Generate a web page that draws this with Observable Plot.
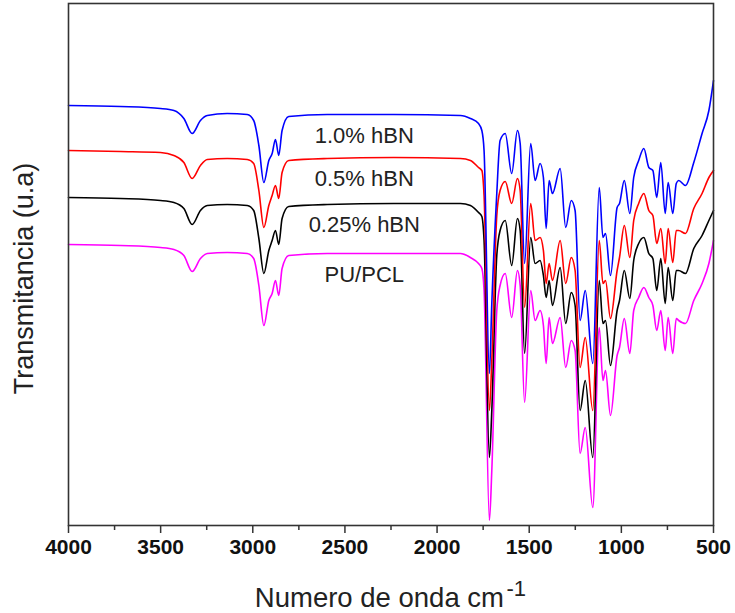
<!DOCTYPE html>
<html>
<head>
<meta charset="utf-8">
<script src="https://cdn.jsdelivr.net/npm/d3@7"></script>
<script src="https://cdn.jsdelivr.net/npm/@observablehq/plot@0.6"></script>
<style>
  body { margin: 0; background: #fff; }
  #chart svg { display: block; }
</style>
</head>
<body>
<div id="chart"></div>
<script>
// Wavenumber grid (cm^-1)
const wavenumber = [4000, 3718, 3501, 3428, 3374, 3329, 3284, 3247, 3139, 3030,
  2995, 2967, 2940, 2913, 2895, 2877, 2859, 2841, 2805, 2596,
  2235, 1873, 1819, 1775, 1757, 1745, 1716, 1703, 1676, 1658,
  1630, 1595, 1564, 1549, 1525, 1492, 1468, 1441, 1423, 1408,
  1392, 1374, 1332, 1302, 1272, 1251, 1224, 1196, 1155, 1120,
  1100, 1086, 1059, 1023, 1010, 984, 954, 933, 906, 878,
  851, 829, 808, 786, 762, 746, 721, 702, 689, 652,
  607, 562, 525, 500];

// Transmittance (arbitrary units, curves offset as in the figure)
const t_hbn10 = [420, 419, 417, 415, 407, 392, 405, 410, 412, 411,
  405, 380, 343, 365, 372, 386, 370, 395, 409, 411,
  411, 410, 407, 402, 395, 375, 152, 222, 332, 385,
  392, 352, 395, 382, 262, 382, 345, 362, 348, 297,
  345, 332, 357, 298, 325, 315, 205, 235, 162, 338,
  288, 292, 250, 318, 322, 345, 312, 348, 365, 377,
  358, 355, 328, 363, 312, 343, 312, 342, 345, 340,
  363, 392, 415, 445];
const t_hbn05 = [375, 374, 373, 370, 363, 347, 360, 366, 367, 366,
  362, 335, 298, 320, 330, 340, 327, 353, 365, 367,
  368, 367, 365, 358, 355, 330, 115, 165, 310, 335,
  344, 322, 347, 335, 218, 322, 285, 288, 275, 242,
  262, 245, 285, 242, 268, 255, 158, 188, 115, 285,
  242, 245, 207, 255, 268, 300, 268, 305, 322, 332,
  315, 310, 282, 297, 262, 297, 263, 295, 295, 292,
  317, 332, 348, 355];
const t_hbn025 = [328, 327, 325, 323, 317, 301, 315, 320, 321, 320,
  315, 287, 252, 275, 285, 295, 281, 307, 319, 321,
  322, 322, 320, 313, 309, 285, 68, 115, 270, 295,
  305, 260, 307, 295, 172, 288, 262, 265, 250, 228,
  245, 220, 258, 202, 233, 220, 115, 145, 68, 245,
  202, 205, 160, 215, 225, 255, 227, 265, 282, 288,
  272, 267, 235, 267, 222, 258, 225, 255, 255, 252,
  277, 290, 305, 315];
const t_pupcl = [281, 280, 278, 276, 270, 254, 267, 272, 273, 272,
  267, 240, 200, 225, 232, 245, 230, 257, 270, 272,
  272, 272, 268, 262, 257, 235, 5, 55, 215, 240,
  252, 208, 255, 240, 123, 235, 205, 215, 200, 162,
  208, 182, 208, 158, 185, 175, 72, 98, 18, 198,
  145, 155, 110, 170, 178, 207, 172, 215, 228, 238,
  228, 220, 195, 215, 175, 208, 172, 207, 205, 202,
  225, 242, 262, 285];

const seriesNames = ["1.0% hBN", "0.5% hBN", "0.25% hBN", "PU/PCL"];
const seriesColors = ["#0000ff", "#ff0000", "#000000", "#ff00ff"];
const seriesValues = [t_hbn10, t_hbn05, t_hbn025, t_pupcl];

const xTicks = [4000, 3500, 3000, 2500, 2000, 1500, 1000, 500];
const xMinorTicks = [3750, 3250, 2750, 2250, 1750, 1250, 750];

const data = seriesNames.flatMap((name, k) =>
  wavenumber.map((w, i) => ({wn: w, t: seriesValues[k][i], series: name}))
);
// draw PU/PCL first, 1.0% last
const drawOrder = [...seriesNames].reverse();
const lineData = drawOrder.flatMap(n => data.filter(d => d.series === n));

// label rows: placed just below each curve's flat baseline
const baseIdx = wavenumber.indexOf(2235);
const labels = seriesNames.map((name, k) => ({name, t: seriesValues[k][baseIdx] - 21}));

const font = "'Liberation Sans', Arial, Helvetica, sans-serif";

const chart = Plot.plot({
  width: 735,
  height: 613,
  marginLeft: 68,
  marginRight: 22,
  marginTop: 3,
  marginBottom: 88,
  style: {fontFamily: font, background: "#fff", color: "#222"},
  x: {domain: [4000, 500], axis: null},
  y: {domain: [0, 522], axis: null},
  color: {domain: seriesNames, range: seriesColors},
  marks: [
    Plot.line(lineData, {x: "wn", y: "t", z: "series", stroke: "series",
      strokeWidth: 1.6, curve: "monotone-x"}),
    Plot.text(labels, {x: () => 2395, y: "t", text: "name", fontSize: 22,
      fill: "#222", textAnchor: "middle"}),
    Plot.axisX({ticks: xMinorTicks, tickSize: 5, text: null, label: null, stroke: "#333", strokeWidth: 1.5}),
    Plot.axisX({ticks: xTicks, tickSize: 8, tickPadding: 6, tickFormat: d => String(d),
      fontSize: 21, fontWeight: "bold", fill: "#111", stroke: "#333", strokeWidth: 1.5, label: null}),
    Plot.frame({stroke: "#333", strokeWidth: 1.6}),
    Plot.text(["Numero de onda cm"], {frameAnchor: "bottom", dx: 113, dy: 81,
      textAnchor: "end", lineAnchor: "bottom", fontSize: 27.5, fill: "#222"}),
    Plot.text(["-1"], {frameAnchor: "bottom", dx: 115.5, dy: 70,
      textAnchor: "start", lineAnchor: "bottom", fontSize: 22, fill: "#222"}),
    Plot.text(["Transmitancia (u.a)"], {frameAnchor: "left", rotate: -90, dx: -44, dy: 14,
      textAnchor: "middle", fontSize: 27, fill: "#222"})
  ]
});

document.getElementById("chart").appendChild(chart);
</script>
</body>
</html>
